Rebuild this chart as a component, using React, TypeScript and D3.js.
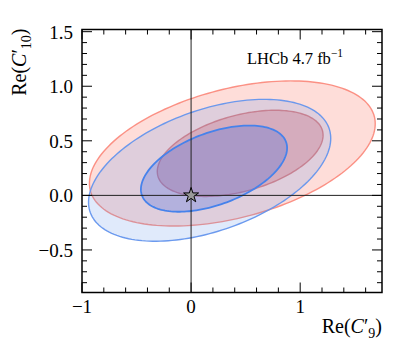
import React, { useRef, useEffect } from "react";
import * as d3 from "d3";

// Contours (68% and 95% CL): centre, half-widths and correlation
const contourNames = ["red95", "red68", "blue95", "blue68"];
const centerX = [0.378, 0.45, 0.17, 0.21];
const centerY = [0.384, 0.385, 0.23, 0.245];
const halfWidth = [1.31, 0.76, 1.11, 0.67];
const halfHeight = [0.665, 0.395, 0.65, 0.395];
const correlation = [0.41, 0.42, 0.45, 0.48];

const fills = ["rgba(250,128,114,0.27)", "rgba(215,80,90,0.3)", "rgba(100,149,237,0.2)", "rgba(65,105,225,0.28)"];
const strokes = ["rgba(250,128,114,0.85)", "rgba(215,100,100,0.75)", "rgba(100,149,237,0.95)", "rgba(70,130,235,1)"];
const strokeWidths = [1.4, 1.4, 1.4, 1.8];

// Axes
const xMajor = [-1, 0, 1];
const xMinor = [-0.8, -0.6, -0.4, -0.2, 0.2, 0.4, 0.6, 0.8, 1.2, 1.4, 1.6];
const yMajor = [-0.5, 0, 0.5, 1.0, 1.5];
const yMinor = [-0.8, -0.7, -0.6, -0.4, -0.3, -0.2, -0.1, 0.1, 0.2, 0.3, 0.4, 0.6, 0.7, 0.8, 0.9, 1.1, 1.2, 1.3, 1.4];
const xDomain = [-1, 1.75];
const yDomain = [-0.89, 1.52];

const fmtY = (d: number) => d3.format(".1f")(d).replace("-", "\u2212");
const fmtX = (d: number) => d3.format("d")(d).replace("-", "\u2212");

const Contours = () => {
  const svgRef = useRef<SVGSVGElement>(null);

  useEffect(() => {
    const width = 407;
    const height = 356;
    const m = { left: 82, right: 25, top: 29.5, bottom: 63.5 };

    const svg = d3.select(svgRef.current).attr("width", width).attr("height", height);
    svg.selectAll("*").remove();

    const x = d3.scaleLinear().domain(xDomain).range([m.left, width - m.right]);
    const y = d3.scaleLinear().domain(yDomain).range([height - m.bottom, m.top]);
    const font = "'Liberation Serif', 'Times New Roman', serif";

    svg.append("defs").append("clipPath").attr("id", "plot-clip")
      .append("rect")
      .attr("x", x(xDomain[0])).attr("y", y(yDomain[1]))
      .attr("width", x(xDomain[1]) - x(xDomain[0]))
      .attr("height", y(yDomain[0]) - y(yDomain[1]));

    const plot = svg.append("g").attr("clip-path", "url(#plot-clip)");

    // ellipse outline from centre / widths / correlation
    const angles = d3.range(0, 2 * Math.PI, Math.PI / 90);
    const line = d3.line<[number, number]>().x((d) => x(d[0])).y((d) => y(d[1])).curve(d3.curveLinearClosed);

    contourNames.forEach((name, i) => {
      const r = correlation[i];
      const pts: [number, number][] = angles.map((t) => [
        centerX[i] + halfWidth[i] * Math.cos(t),
        centerY[i] + halfHeight[i] * (r * Math.cos(t) + Math.sqrt(1 - r * r) * Math.sin(t)),
      ]);
      plot.append("path")
        .attr("class", name)
        .attr("d", line(pts))
        .attr("fill", fills[i])
        .attr("stroke", strokes[i])
        .attr("stroke-width", strokeWidths[i]);
    });

    // zero lines
    plot.append("line")
      .attr("x1", x(0)).attr("x2", x(0))
      .attr("y1", y(yDomain[0])).attr("y2", y(yDomain[1]))
      .attr("stroke", "#222").attr("stroke-width", 1);
    plot.append("line")
      .attr("x1", x(xDomain[0])).attr("x2", x(xDomain[1]))
      .attr("y1", y(0)).attr("y2", y(0))
      .attr("stroke", "#222").attr("stroke-width", 1);

    // SM point
    plot.append("path")
      .attr("d", d3.symbol(d3.symbolStar, 70)())
      .attr("transform", `translate(${x(0)},${y(0)})`)
      .attr("fill", "#999")
      .attr("stroke", "#000")
      .attr("stroke-width", 1);

    // ticks on all sides, pointing in
    const ticks = svg.append("g").attr("stroke", "#000").attr("stroke-width", 1);
    const x0 = x(xDomain[0]);
    const x1 = x(xDomain[1]);
    const y0 = y(yDomain[0]);
    const y1 = y(yDomain[1]);
    const addX = (vals: number[], len: number) => {
      vals.forEach((v) => {
        ticks.append("line").attr("x1", x(v)).attr("x2", x(v)).attr("y1", y0).attr("y2", y0 - len);
        ticks.append("line").attr("x1", x(v)).attr("x2", x(v)).attr("y1", y1).attr("y2", y1 + len);
      });
    };
    const addY = (vals: number[], len: number) => {
      vals.forEach((v) => {
        ticks.append("line").attr("y1", y(v)).attr("y2", y(v)).attr("x1", x0).attr("x2", x0 + len);
        ticks.append("line").attr("y1", y(v)).attr("y2", y(v)).attr("x1", x1).attr("x2", x1 - len);
      });
    };
    addX(xMajor, 10);
    addX(xMinor, 5);
    addY(yMajor, 10);
    addY(yMinor, 5);

    // frame
    svg.append("rect")
      .attr("x", x0).attr("y", y1)
      .attr("width", x1 - x0).attr("height", y0 - y1)
      .attr("fill", "none").attr("stroke", "#000").attr("stroke-width", 1.5);

    // tick labels
    svg.append("g").selectAll("text").data(xMajor).join("text")
      .attr("x", (d) => x(d)).attr("y", y0 + 20)
      .attr("text-anchor", "middle")
      .attr("font-family", font).attr("font-size", 19)
      .text((d) => fmtX(d));

    svg.append("g").selectAll("text").data(yMajor).join("text")
      .attr("x", x0 - 9).attr("y", (d) => y(d) + 7)
      .attr("text-anchor", "end")
      .attr("font-family", font).attr("font-size", 19)
      .text((d) => fmtY(d));

    // axis titles
    const xt = svg.append("text")
      .attr("x", x1).attr("y", 333)
      .attr("text-anchor", "end")
      .attr("font-family", font).attr("font-size", 20);
    xt.append("tspan").text("Re(");
    xt.append("tspan").attr("font-style", "italic").text("C");
    xt.append("tspan").text("\u2032");
    xt.append("tspan").attr("font-size", 14).attr("dy", 5).text("9");
    xt.append("tspan").attr("dy", -5).text(")");

    const yt = svg.append("text")
      .attr("transform", `translate(26, ${y1 - 1}) rotate(-90)`)
      .attr("text-anchor", "end")
      .attr("font-family", font).attr("font-size", 20);
    yt.append("tspan").text("Re(");
    yt.append("tspan").attr("font-style", "italic").text("C");
    yt.append("tspan").text("\u2032");
    yt.append("tspan").attr("font-size", 14).attr("dy", 5).text("10");
    yt.append("tspan").attr("dy", -5).text(")");

    // experiment label
    const lt = svg.append("text")
      .attr("x", 247).attr("y", 64)
      .attr("font-family", font).attr("font-size", 16.5);
    lt.append("tspan").text("LHCb 4.7 fb");
    lt.append("tspan").attr("font-size", 11.5).attr("dy", -7).text("\u22121");
  }, []);

  return <svg ref={svgRef} style={{ display: "block", position: "absolute", left: 0, top: 0 }} />;
};

const App = () => {
  return (
    <>
      <Contours />
    </>
  );
};

export default App;
